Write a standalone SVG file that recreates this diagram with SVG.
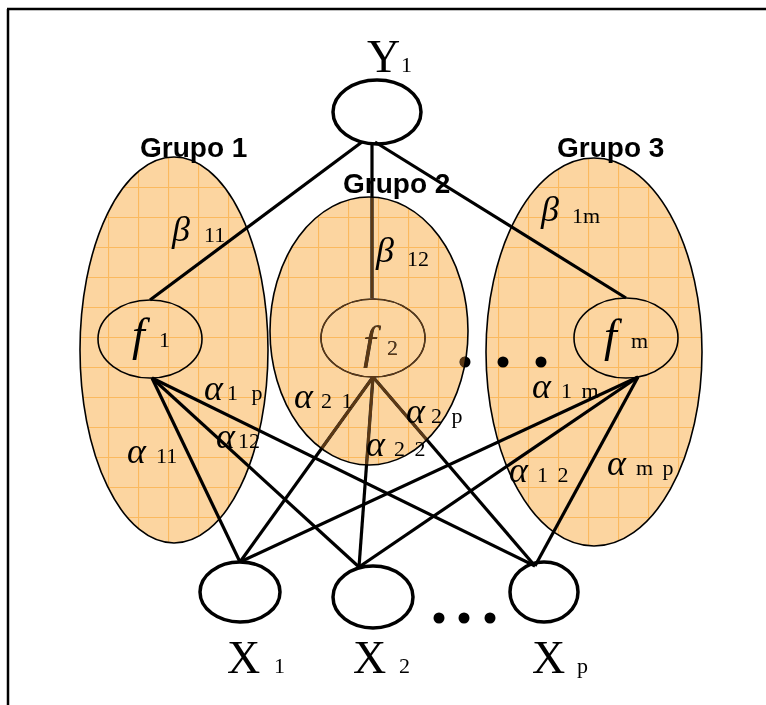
<svg xmlns="http://www.w3.org/2000/svg" width="766" height="705" viewBox="0 0 766 705">
<style>
.grp{stroke:#000;stroke-width:1.6}
.node{fill:none;stroke:#000;stroke-width:3.5}
.fnode{fill:none;stroke:#000;stroke-width:1.6}
.conn line{stroke:#000;stroke-width:3.2;stroke-linecap:butt}
.gt{font-family:"Liberation Sans",Arial,sans-serif;font-weight:bold;font-size:28px;fill:#000}
.big{font-family:"Liberation Serif","Times New Roman",serif;font-size:46px;fill:#000}
.sub{font-family:"Liberation Serif","Times New Roman",serif;font-size:22px;fill:#000;word-spacing:4px}
.fi{font-family:"Liberation Serif","Times New Roman",serif;font-style:italic;font-size:46px;fill:#000}
.gk{font-family:"Liberation Serif","Times New Roman",serif;font-style:italic;font-size:36px;fill:#000}
.dot{fill:#000}
</style>
<defs>
<pattern id="grid" width="30" height="30" patternUnits="userSpaceOnUse" x="18" y="7">
<rect width="30" height="30" fill="#FCD5A0"/>
<path d="M0 0.5H30M0.5 0V30" stroke="#FBB95E" stroke-width="1.2" fill="none"/>
</pattern>
</defs>
<rect width="766" height="705" fill="#fff"/>
<g id="frame" stroke="#000" stroke-width="2.5">
<line x1="7" y1="9" x2="766" y2="9"/>
<line x1="8" y1="9" x2="8" y2="705"/>
</g>
<g id="grupo1"><ellipse cx="174" cy="350" rx="94" ry="193" fill="url(#grid)" class="grp"/></g>
<g id="grupo3"><ellipse cx="594" cy="352" rx="108" ry="194" fill="url(#grid)" class="grp"/></g>
<g id="grupo2"><ellipse cx="369" cy="331" rx="99" ry="134" fill="url(#grid)"/></g>
<g id="f1"><ellipse cx="150" cy="339" rx="52" ry="39" class="fnode"/>
<text x="132" y="350" class="fi">f</text><text x="159" y="347" class="sub">1</text></g>
<g id="f2"><ellipse cx="373" cy="338" rx="52" ry="39" class="fnode"/>
<text x="363" y="358" class="fi">f</text><text x="387" y="355" class="sub">2</text></g>
<g id="fm"><ellipse cx="626" cy="338" rx="52" ry="40" class="fnode"/>
<text x="604" y="351" class="fi">f</text><text x="631" y="348" class="sub">m</text></g>
<g id="Y1"><ellipse cx="377" cy="112" rx="44" ry="32" class="node"/>
<text x="367" y="72" class="big">Y</text><text x="401" y="72" class="sub">1</text></g>
<g id="X1"><ellipse cx="240" cy="592" rx="40" ry="30" class="node"/>
<text x="227" y="673" class="big">X</text><text x="274" y="673" class="sub">1</text></g>
<g id="X2"><ellipse cx="373" cy="597" rx="40" ry="31" class="node"/>
<text x="353" y="673" class="big">X</text><text x="399" y="673" class="sub">2</text></g>
<g id="Xp"><ellipse cx="544" cy="592" rx="34" ry="30" class="node"/>
<text x="532" y="673" class="big">X</text><text x="577" y="673" class="sub">p</text></g>
<g id="dots">
<circle cx="465" cy="362" r="5.5" class="dot"/><circle cx="503" cy="362" r="5.5" class="dot"/><circle cx="541" cy="362" r="5.5" class="dot"/>
<circle cx="439" cy="618" r="5.5" class="dot"/><circle cx="464" cy="618" r="5.5" class="dot"/><circle cx="490" cy="618" r="5.5" class="dot"/>
</g>
<g id="connectors" class="conn">
<line x1="362" y1="142" x2="150" y2="300"/>
<line x1="372" y1="145" x2="372" y2="298"/>
<line x1="375" y1="142" x2="626" y2="298"/>
<line x1="152" y1="378" x2="240" y2="562"/>
<line x1="152" y1="378" x2="359" y2="567"/>
<line x1="152" y1="378" x2="535" y2="566"/>
<line x1="373" y1="377" x2="240" y2="562"/>
<line x1="373" y1="377" x2="359" y2="567"/>
<line x1="373" y1="377" x2="535" y2="566"/>
<line x1="638" y1="377" x2="240" y2="562"/>
<line x1="638" y1="377" x2="359" y2="567"/>
<line x1="638" y1="377" x2="535" y2="566"/>
</g>
<g id="grupo2-overlay">
<ellipse cx="369" cy="331" rx="99" ry="134" fill="#5A3814" style="mix-blend-mode:lighten"/>
<ellipse cx="369" cy="331" rx="99" ry="134" fill="none" class="grp"/>
</g>
<g id="labels">
<text x="140" y="157" class="gt">Grupo 1</text>
<text x="343" y="193" class="gt">Grupo 2</text>
<text x="557" y="157" class="gt">Grupo 3</text>
<text x="172" y="241" class="gk">β</text><text x="204" y="242" class="sub">11</text>
<text x="376" y="262" class="gk">β</text><text x="407" y="266" class="sub">12</text>
<text x="541" y="221" class="gk">β</text><text x="572" y="223" class="sub">1m</text>
<text x="204" y="400" class="gk">α</text><text x="227" y="400" class="sub" style="word-spacing:8px">1 p</text>
<text x="216" y="448" class="gk">α</text><text x="238" y="448" class="sub">12</text>
<text x="127" y="463" class="gk">α</text><text x="156" y="463" class="sub">11</text>
<text x="294" y="408" class="gk">α</text><text x="321" y="408" class="sub">2 1</text>
<text x="406" y="423" class="gk">α</text><text x="431" y="423" class="sub">2 p</text>
<text x="366" y="456" class="gk">α</text><text x="394" y="456" class="sub">2 2</text>
<text x="532" y="398" class="gk">α</text><text x="561" y="398" class="sub">1 m</text>
<text x="509" y="482" class="gk">α</text><text x="537" y="482" class="sub">1 2</text>
<text x="607" y="475" class="gk">α</text><text x="636" y="475" class="sub">m p</text>
</g>
</svg>
